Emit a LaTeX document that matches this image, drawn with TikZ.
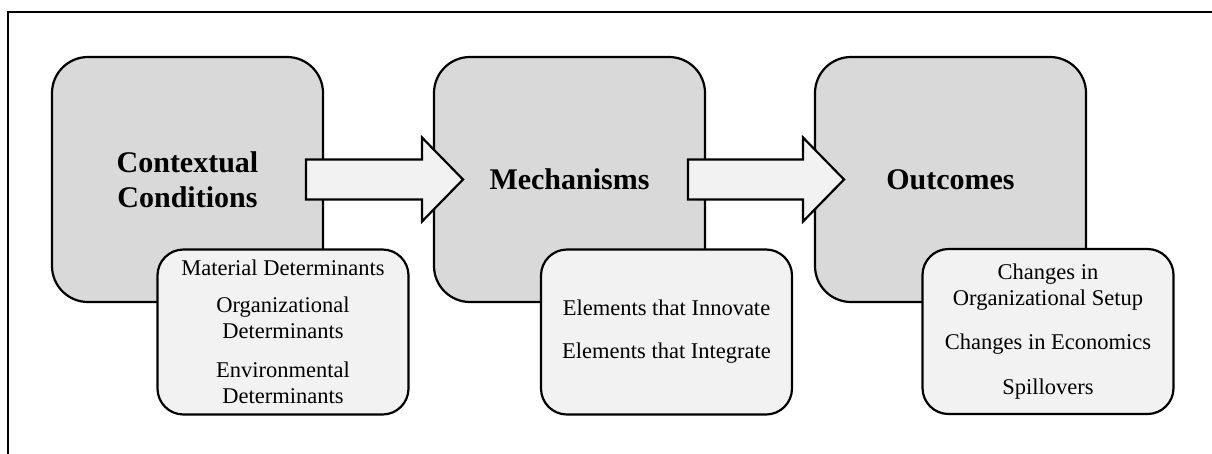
\documentclass[tikz,border=0pt]{standalone}
\usepackage{fontspec}
\setmainfont{Liberation Serif}
\usetikzlibrary{calc}
\definecolor{boxgray}{HTML}{D9D9D9}
\definecolor{lightgray}{HTML}{F2F2F2}
\tikzset{
  stage/.style={draw=black, line width=2.2pt, fill=boxgray, rounded corners=36pt,
    minimum width=271pt, minimum height=245pt, inner sep=0pt, outer sep=0pt,
    align=center, font=\fontsize{30}{35}\selectfont\bfseries},
  detail/.style={draw=black, line width=2.2pt, fill=lightgray, rounded corners=26pt,
    minimum width=251pt, minimum height=165pt, inner sep=0pt, outer sep=0pt,
    align=center, font=\fontsize{22.5}{26}\selectfont},
  blockarrow/.style={draw=black, line width=2.2pt, fill=lightgray, line join=miter},
  frameline/.style={draw=black, line width=2pt}
}
\begin{document}
\begin{tikzpicture}[x=1pt, y=-1pt]
  \useasboundingbox (0,0) rectangle (1212,453);
  % open frame: top and left edges
  \draw[frameline] (1214,12) -- (8,12) -- (8,455);

  % main stages
  \node[stage] (c1) at (187.5,179.5) {Contextual\\Conditions};
  \node[stage] (c2) at (569.5,179.5) {Mechanisms};
  \node[stage] (c3) at (950.5,179.5) {Outcomes};

  % detail boxes
  \node[detail] (d1) at (283,332) {Material Determinants\\[11pt]
    Organizational\\Determinants\\[13pt]
    Environmental\\Determinants};
  \node[detail] (d2) at (666.5,332) {Elements that Innovate\\[17pt]
    Elements that Integrate};
  \node[detail] (d3) at (1048,331.5) {Changes in\\Organizational Setup\\[18pt]
    Changes in Economics\\[19pt]
    Spillovers};

  % block arrows between stages
  \foreach \a/\b in {c1/c2, c2/c3}{
    \draw[blockarrow]
      ($(\a.east)+(-17,-20)$) -- ($(\b.west)+(-12,-20)$) -- ($(\b.west)+(-12,-42)$)
      -- ($(\b.west)+(29,0)$) -- ($(\b.west)+(-12,42)$) -- ($(\b.west)+(-12,20)$)
      -- ($(\a.east)+(-17,20)$) -- cycle;
  }
\end{tikzpicture}
\end{document}
